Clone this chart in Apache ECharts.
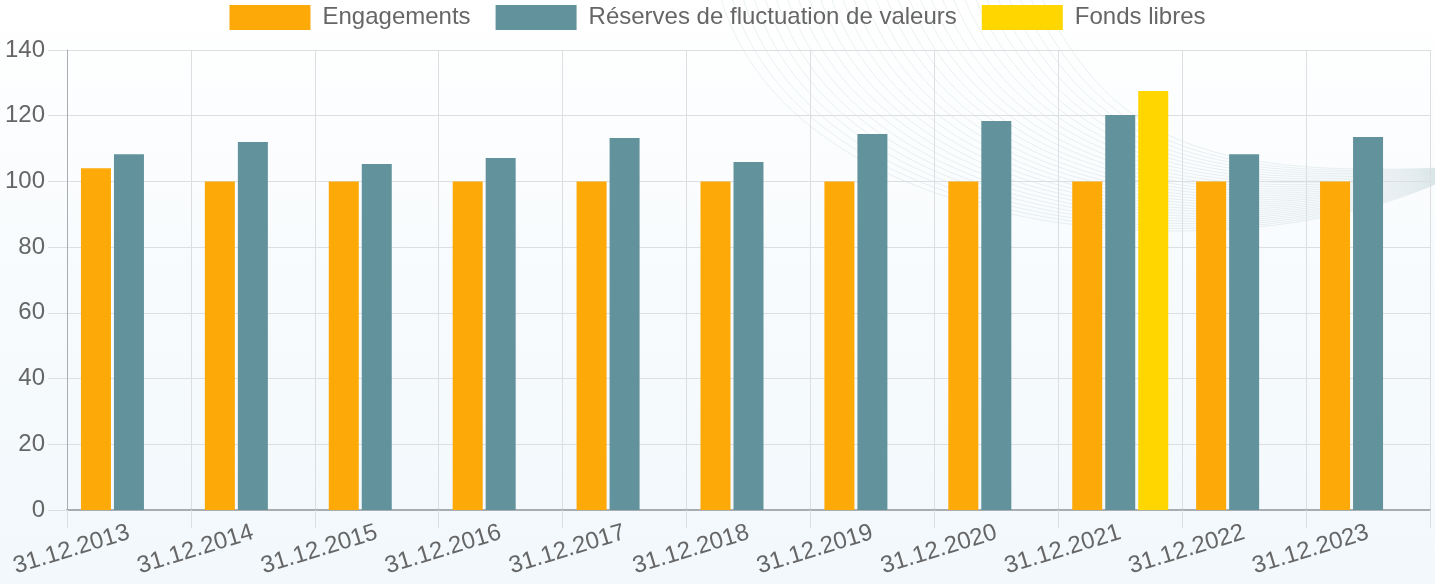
<!DOCTYPE html>
<html>
<head>
<meta charset="utf-8">
<script src="https://cdn.jsdelivr.net/npm/echarts@6/dist/echarts.min.js"></script>
<style>
  html, body { margin: 0; padding: 0; }
  #chart { width: 1435px; height: 584px; }
</style>
</head>
<body>
<div id="chart"></div>
<script>
// données
var dates = ["31.12.2013", "31.12.2014", "31.12.2015", "31.12.2016", "31.12.2017", "31.12.2018",
             "31.12.2019", "31.12.2020", "31.12.2021", "31.12.2022", "31.12.2023"];
var engagements = [104, 100, 100, 100, 100, 100, 100, 100, 100, 100, 100];
var reserves    = [108.3, 112, 105.3, 107.1, 113.2, 105.9, 114.4, 118.4, 120.2, 108.3, 113.5];
var fondsLibres = [null, null, null, null, null, null, null, null, 127.5, null, null];
var yTicks = [0, 20, 40, 60, 80, 100, 120, 140];

// décor en arrière-plan (courbes)
var swirl = [];
for (var i = 0; i < 30; i++) {
    var t = i / 29;
    var sx = 720 + 320 * t;
    var d = 232 - 100 * t;
    var ey = 182 - 14 * t;
    swirl.push({
        type: "bezierCurve",
        z: -10,
        silent: true,
        shape: {
            x1: sx, y1: -5,
            cpx1: sx + 70, cpy1: d * 1.05,
            cpx2: 1230 - 30 * t, cpy2: d + 45,
            x2: 1440, y2: ey
        },
        style: { stroke: "rgba(98,146,155,0.13)", lineWidth: 1, fill: null }
    });
}

var myChart = echarts.init(document.getElementById("chart"));
myChart.setOption({
    backgroundColor: {
        type: "linear", x: 0, y: 0, x2: 0, y2: 1,
        colorStops: [
            { offset: 0, color: "#ffffff" },
            { offset: 0.45, color: "#f8fbfd" },
            { offset: 1, color: "#f2f8fc" }
        ]
    },
    textStyle: { fontFamily: "Liberation Sans" },
    graphic: { elements: swirl },
    legend: {
        top: 0,
        left: "center",
        itemWidth: 81,
        itemHeight: 25,
        itemGap: 25,
        icon: "rect",
        textStyle: { fontSize: 24, color: "#666", padding: [0, 0, 0, 7] },
        data: ["Engagements", "Réserves de fluctuation de valeurs", "Fonds libres"]
    },
    grid: { left: 67, right: 5, top: 50, bottom: 74 },
    xAxis: {
        type: "category",
        data: dates,
        axisLine: { lineStyle: { color: "#a9adb2", width: 2 } },
        axisTick: { show: true, length: 18, lineStyle: { color: "#dcdee2" } },
        splitLine: { show: true, lineStyle: { color: "#dcdee2" } },
        axisLabel: { rotate: 17, fontSize: 24, color: "#666", margin: 22 }
    },
    yAxis: {
        type: "value",
        min: yTicks[0],
        max: yTicks[yTicks.length - 1],
        interval: 20,
        axisLine: { show: true, lineStyle: { color: "#a9adb2" } },
        axisTick: { show: true, length: 19, lineStyle: { color: "#dcdee2" } },
        splitLine: { lineStyle: { color: "#dcdee2" } },
        axisLabel: { fontSize: 24, color: "#666", margin: 22 }
    },
    series: [
        { name: "Engagements", type: "bar", barWidth: 30, barGap: "10%", data: engagements, itemStyle: { color: "#fda907" } },
        { name: "Réserves de fluctuation de valeurs", type: "bar", barWidth: 30, barGap: "10%", data: reserves, itemStyle: { color: "#62939c" } },
        { name: "Fonds libres", type: "bar", barWidth: 30, barGap: "10%", data: fondsLibres, itemStyle: { color: "#ffd600" } }
    ]
});
</script>
</body>
</html>
